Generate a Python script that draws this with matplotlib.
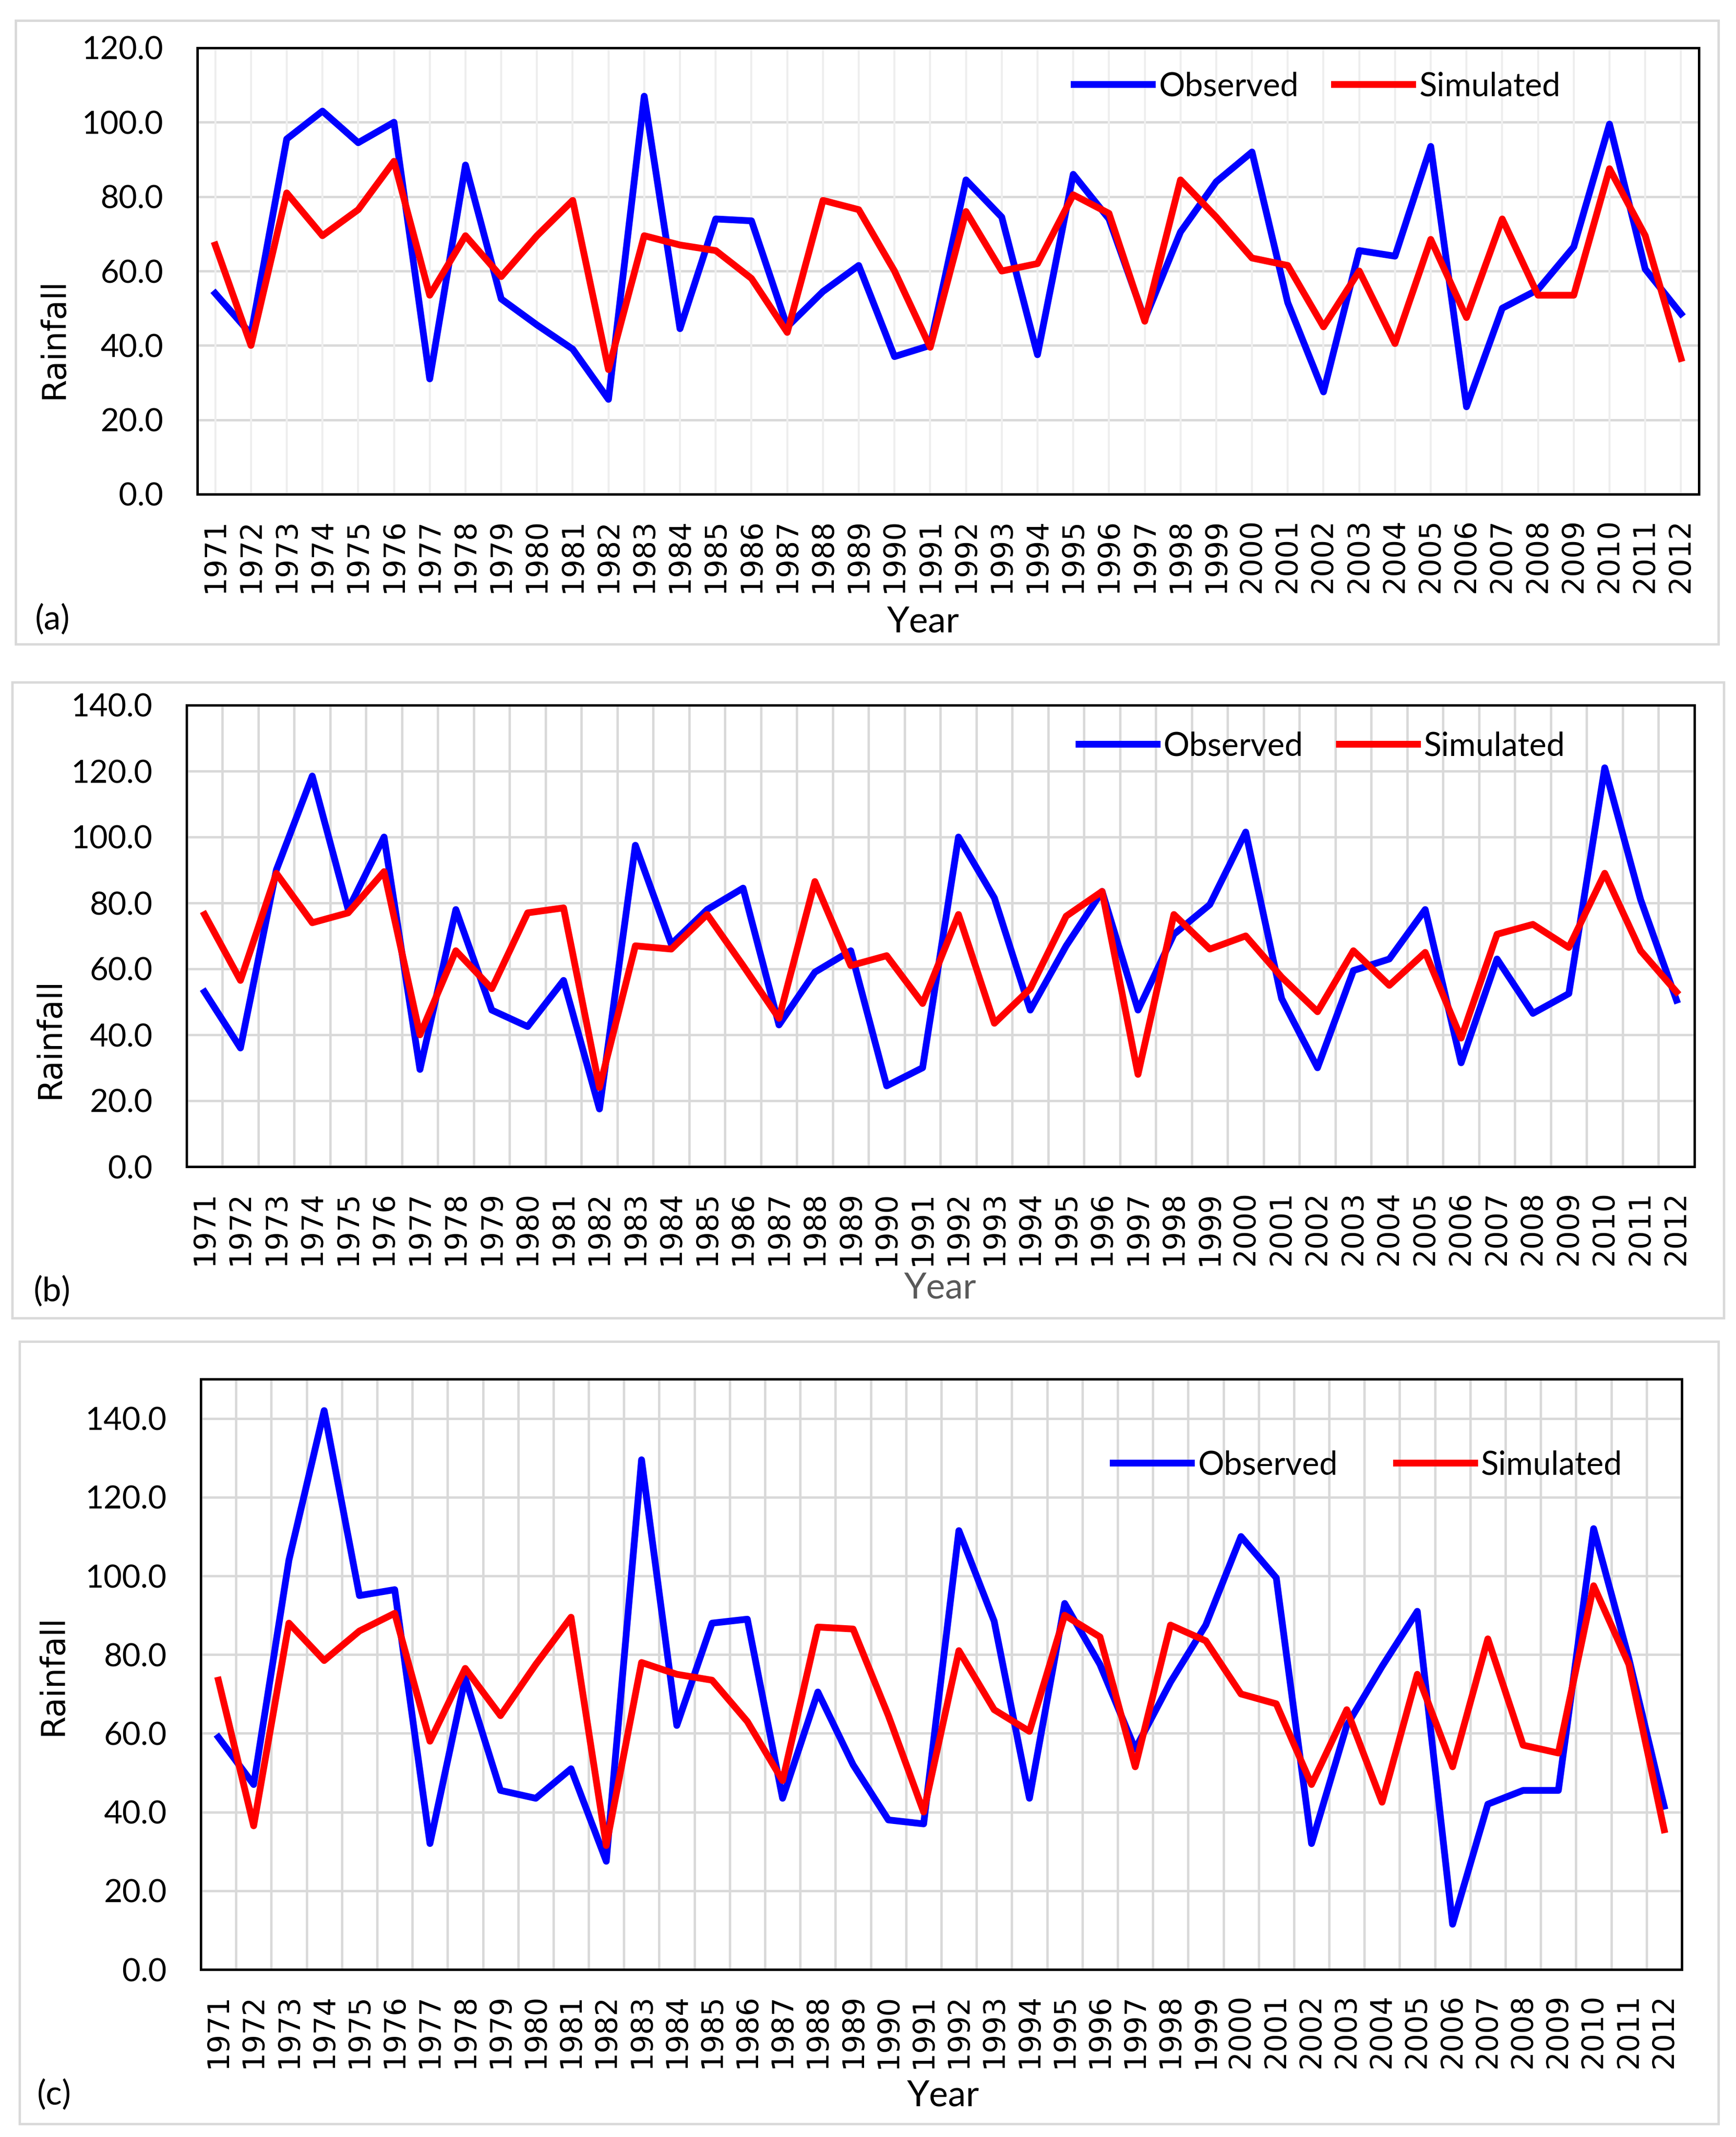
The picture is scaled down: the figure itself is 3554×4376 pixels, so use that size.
import numpy as np
import matplotlib
matplotlib.use("Agg")
import matplotlib.pyplot as plt
from matplotlib.patches import Rectangle
from matplotlib.ticker import FixedLocator

years = [str(y) for y in range(1971, 2013)]

obs_a = [54, 43, 95.5, 103, 94.5, 100, 31, 88.5, 52.5, 45.5, 39, 25.5, 107, 44.5,
         74, 73.5, 45, 54.5, 61.5, 37, 40, 84.5, 74.5, 37.5, 86, 74, 47, 70.5,
         84, 92, 51.5, 27.5, 65.5, 64, 93.5, 23.5, 50, 55, 66.5, 99.5, 60.5, 48.5]
sim_a = [67, 40, 81, 69.5, 76.5, 89.5, 53.5, 69.5, 58.5, 69.5, 79, 33.5, 69.5, 67,
         65.5, 58, 43.5, 79, 76.5, 60, 39.5, 76, 60, 62, 80.5, 75.5, 46.5, 84.5,
         74.5, 63.5, 61.5, 45, 60, 40.5, 68.5, 47.5, 74, 53.5, 53.5, 87.5, 69.5, 36.5]

obs_b = [53, 36, 90, 118.5, 78, 100, 29.5, 78, 47.5, 42.5, 56.5, 17.5, 97.5, 67.5,
         78, 84.5, 43, 59, 65.5, 24.5, 30, 100, 81.5, 47.5, 67, 83.5, 47.5, 70.5,
         79.5, 101.5, 51, 30, 59.5, 63, 78, 31.5, 63, 46.5, 52.5, 121, 81, 50.5]
sim_b = [76.5, 56.5, 89, 74, 77, 89.5, 40, 65.5, 54, 77, 78.5, 24, 67, 66,
         76.5, 61, 45, 86.5, 61, 64, 49.5, 76.5, 43.5, 54, 76, 83.5, 28, 76.5,
         66, 70, 57.5, 47, 65.5, 55, 65, 39, 70.5, 73.5, 66.5, 89, 65.5, 53]

obs_c = [59, 47, 104, 142, 95, 96.5, 32, 74, 45.5, 43.5, 51, 27.5, 129.5, 62,
         88, 89, 43.5, 70.5, 52, 38, 37, 111.5, 88.5, 43.5, 93, 77.5, 56, 73,
         87.5, 110, 99.5, 32, 62, 77, 91, 11.5, 42, 45.5, 45.5, 112, 79, 41.5]
sim_c = [73.5, 36.5, 88, 78.5, 86, 90.5, 58, 76.5, 64.5, 77.5, 89.5, 31.5, 78, 75,
         73.5, 63, 48, 87, 86.5, 64.5, 40, 81, 66, 60.5, 90, 84.5, 51.5, 87.5,
         83.5, 70, 67.5, 47, 66, 42.5, 75, 51.5, 84, 57, 55, 97.5, 77.5, 35.5]

W, H = 3555, 4376
NARROW = ['Lato', 'DejaVu Sans']
WIDE = ['DejaVu Sans']
GRID = '#d9d9d9'

fig = plt.figure(figsize=(W / 100, H / 100), dpi=100)


def px_box(x0, y0, x1, y1):
    # pixel box (top-left origin) -> figure fraction rect
    return [x0 / W, 1 - y1 / H, (x1 - x0) / W, (y1 - y0) / H]


def draw_panel(frame, axbox, obs, sim, ymax, ytop, vgrid_between, leg_xy, colsp,
               tag, tag_xy, year_xy, year_color, rain_xy):
    fig.patches.append(Rectangle((frame[0] / W, 1 - frame[3] / H),
                                 (frame[2] - frame[0]) / W, (frame[3] - frame[1]) / H,
                                 transform=fig.transFigure, fill=False,
                                 edgecolor=GRID, lw=3.5, zorder=0))
    ax = fig.add_axes(px_box(*axbox))
    ax.plot(years, obs, color='#0000ff', lw=10, label='Observed', zorder=3)
    ax.plot(years, sim, color='#ff0000', lw=10, label='Simulated', zorder=4)
    ax.set_xlim(-0.5, len(years) - 0.5)
    ax.set_ylim(0, ytop)
    yt = np.arange(0, ymax + 1, 20)
    ax.yaxis.set_major_locator(FixedLocator(yt))
    ax.set_yticklabels(['%.1f' % v for v in yt])
    for v in yt[1:]:
        if v < ytop:
            ax.axhline(v, color=GRID, lw=3.5, zorder=1)
    if vgrid_between:
        for i in range(1, len(years)):
            ax.axvline(i - 0.5, color=GRID, lw=3.5, zorder=1)
    else:
        for i in range(len(years)):
            ax.axvline(i, color='#eeeeee', lw=3.0, zorder=1)
    for s in ax.spines.values():
        s.set_linewidth(3.6)
        s.set_color('black')
        s.set_zorder(5)
    ax.tick_params(axis='x', length=0, pad=36, labelrotation=90)
    ax.tick_params(axis='y', length=0, pad=50)
    for lab in ax.get_xticklabels():
        lab.set_fontfamily(WIDE)
        lab.set_fontsize(43)
    for lab in ax.get_yticklabels():
        lab.set_fontfamily(NARROW)
        lab.set_fontsize(47)
    leg = ax.legend(loc='center', bbox_to_anchor=leg_xy, ncol=2, frameon=False,
                    handlelength=2.4, handletextpad=0.2, columnspacing=colsp,
                    prop={'family': NARROW, 'size': 48})
    leg.set_zorder(6)
    fig.text(tag_xy[0] / W, 1 - tag_xy[1] / H, tag, fontsize=50,
             family=NARROW, ha='left', va='center')
    fig.text(year_xy[0] / W, 1 - year_xy[1] / H, 'Year', fontsize=53,
             family=NARROW, ha='center', va='center', color=year_color)
    fig.text(rain_xy[0] / W, 1 - rain_xy[1] / H, 'Rainfall', fontsize=48,
             family=WIDE, ha='center', va='center', rotation=90)
    return ax


draw_panel((32, 42, 3518, 1319), (404, 98, 3478, 1012), obs_a, sim_a, 120, 120,
           False, (0.746, 0.913), 1.1, '(a)', (72, 1268), (1890, 1274), 'black',
           (111, 693))
draw_panel((25, 1397, 3529, 2699), (382, 1444, 3469, 2389), obs_b, sim_b, 140, 140,
           True, (0.753, 0.911), 1.1, '(b)', (69, 2644), (1925, 2638), '#595959',
           (103, 2126))
draw_panel((40, 2747, 3518, 4349), (411, 2824, 3443, 4033), obs_c, sim_c, 140, 150,
           True, (0.788, 0.854), 1.8, '(c)', (76, 4289), (1931, 4292), 'black',
           (109, 3430))

fig.savefig('out.png', dpi=100, facecolor='white')
